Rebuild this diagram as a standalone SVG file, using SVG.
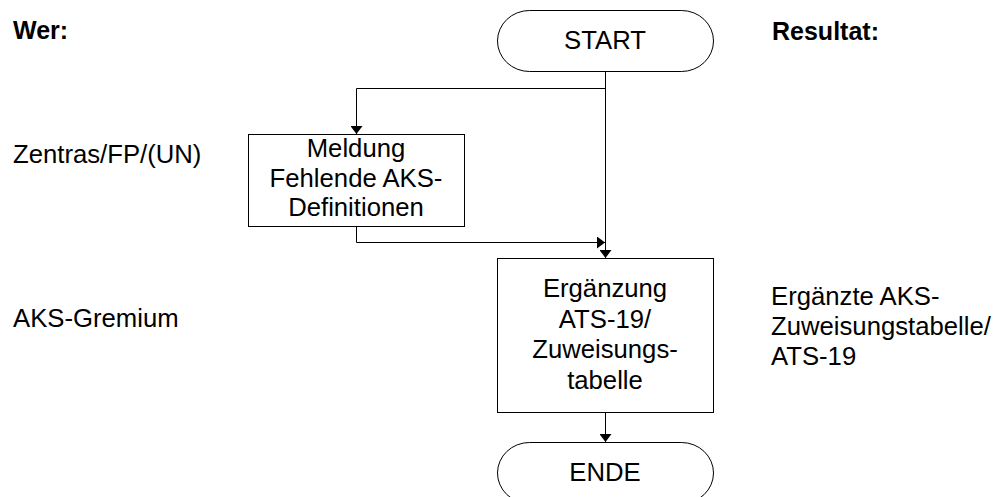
<svg xmlns="http://www.w3.org/2000/svg" width="997" height="497" viewBox="0 0 997 497">
  <style>
    .shape { fill: #ffffff; stroke: #000000; stroke-width: 1; }
    .wire { fill: none; stroke: #000000; stroke-width: 1; }
    text { font-family: "Liberation Sans", Arial, sans-serif; font-size: 25.7px; fill: #000000; }
    .head { font-weight: bold; font-size: 25px; }
    .mid { text-anchor: middle; }
  </style>
  <defs>
    <marker id="arrow" viewBox="0 0 8 12" refX="8" refY="6" markerWidth="8" markerHeight="12" markerUnits="userSpaceOnUse" orient="auto">
      <path d="M0,0 L8,6 L0,12 Z" fill="#000000"/>
    </marker>
  </defs>

  <rect width="997" height="497" fill="#ffffff"/>

  <!-- column headings and lane labels -->
  <g id="labels">
    <text class="head" x="13" y="39">Wer:</text>
    <text class="head" x="772" y="40">Resultat:</text>
    <text x="13" y="163">Zentras/FP/(UN)</text>
    <text x="13" y="327">AKS-Gremium</text>
    <text x="771" y="305">Ergänzte AKS-</text>
    <text x="771" y="335">Zuweisungstabelle/</text>
    <text x="771" y="365">ATS-19</text>
  </g>

  <!-- connectors -->
  <g id="connectors">
    <path class="wire" d="M605.5,72 V258" marker-end="url(#arrow)"/>
    <path class="wire" d="M605.5,88.5 H356.5 V134" marker-end="url(#arrow)"/>
    <path class="wire" d="M356.5,227 V242.5 H605" marker-end="url(#arrow)"/>
    <path class="wire" d="M605.5,412 V442" marker-end="url(#arrow)"/>
  </g>

  <g id="start">
    <rect class="shape" x="497.5" y="10.5" width="216" height="61" rx="32" ry="30.5"/>
    <text class="mid" x="605" y="49">START</text>
  </g>

  <g id="meldung">
    <rect class="shape" x="248.5" y="134.5" width="216" height="92"/>
    <text class="mid" x="356" y="157">Meldung</text>
    <text class="mid" x="356" y="187">Fehlende AKS-</text>
    <text class="mid" x="356" y="216">Definitionen</text>
  </g>

  <g id="ergaenzung">
    <rect class="shape" x="497.5" y="258.5" width="216" height="154"/>
    <text class="mid" x="605" y="297">Ergänzung</text>
    <text class="mid" x="605" y="327.5">ATS-19/</text>
    <text class="mid" x="605" y="358">Zuweisungs-</text>
    <text class="mid" x="605" y="388.5">tabelle</text>
  </g>

  <g id="ende">
    <rect class="shape" x="497.5" y="442.5" width="216" height="61" rx="32" ry="30.5"/>
    <text class="mid" x="605" y="481">ENDE</text>
  </g>
</svg>
